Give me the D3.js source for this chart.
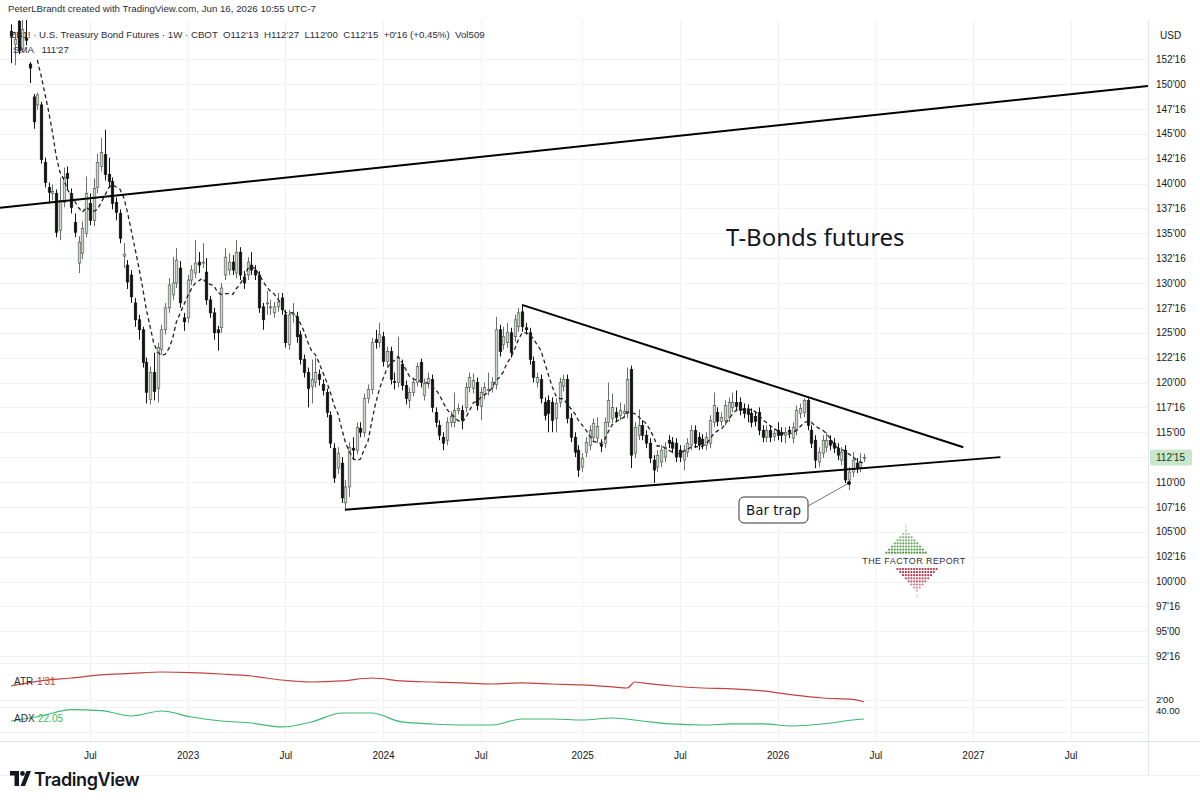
<!DOCTYPE html>
<html>
<head>
<meta charset="utf-8">
<title>T-Bonds futures</title>
<script src="https://cdn.jsdelivr.net/npm/d3@7"></script>
<style>
  body { margin: 0; background: #fff; }
  svg { display: block; font-family: "Liberation Sans", Arial, sans-serif; }
</style>
</head>
<body>
<svg id="chart" width="1200" height="803"></svg>
<script>
// weekly bars, first one is the week of 2022-02-07
var firstWeek = "2022-02-07"

var opens = [
  155.3,154.0,156.3,153.5,154.6,152.0,148.7,147.9,147.9,142.1,
  139.6,139.0,139.0,135.3,138.1,141.0,139.0,136.1,132.0,133.0,
  135.0,138.0,136.3,139.6,141.7,142.9,140.9,140.2,138.1,137.0,
  132.7,131.8,130.8,128.0,126.3,125.3,122.0,118.3,121.0,119.4,
  123.3,125.3,127.5,128.8,130.0,131.5,126.5,126.5,130.3,131.0,
  132.1,132.0,131.1,128.3,127.0,125.3,125.5,130.8,131.3,132.1,
  131.0,133.1,130.6,130.8,131.8,131.3,130.8,127.6,127.9,127.5,
  127.0,127.6,128.5,126.8,123.8,126.8,126.6,124.8,122.3,121.0,
  119.6,120.0,120.8,119.8,119.0,116.7,113.4,111.4,111.9,107.9,
  109.5,113.4,113.2,115.4,115.0,118.4,119.3,124.3,124.0,124.6,
  122.1,123.1,120.1,120.0,121.8,119.7,118.2,119.0,120.0,122.0,
  118.7,119.9,120.3,117.0,115.7,114.5,114.2,116.0,116.0,117.2,
  117.2,117.5,119.5,119.4,120.0,117.6,118.8,119.2,119.5,119.8,
  125.3,123.8,124.0,125.0,124.6,125.6,127.1,125.5,125.0,122.1,
  120.0,120.3,118.0,118.2,118.0,116.4,118.0,119.6,120.3,116.4,
  114.5,113.2,111.5,113.0,113.7,114.5,114.4,113.8,113.9,116.0,
  116.4,117.0,116.7,116.9,116.9,121.3,112.9,114.7,115.7,114.7,
  113.9,112.2,111.5,112.0,112.5,114.2,114.0,113.9,113.2,112.2,
  113.0,113.7,115.2,114.5,114.3,113.7,113.9,116.0,117.0,116.1,
  116.2,116.5,117.5,118.0,118.0,117.4,117.3,116.9,116.6,117.0,
  115.2,114.5,115.2,114.6,115.2,115.0,114.7,115.2,114.4,115.2,
  116.9,117.0,118.2,115.2,114.2,112.0,112.9,113.5,114.2,113.9,
  113.4,112.2,113.2,110.2,111.0,111.9,111.5,112.406
]
var highs = [
  156.0,155.2,157.5,156.8,156.9,152.2,149.0,149.1,148.2,142.6,
  140.1,139.9,139.4,140.6,141.6,141.7,139.5,137.0,134.7,136.2,
  140.7,139.0,140.5,143.0,144.6,145.4,142.6,140.6,138.6,137.4,
  134.0,132.3,131.3,128.5,126.8,125.6,122.5,121.6,123.0,124.0,
  125.8,128.0,130.5,132.6,133.5,132.2,127.0,130.8,131.8,134.3,
  133.1,134.0,132.5,128.7,127.5,125.7,130.0,133.5,133.0,132.8,
  134.3,133.6,131.2,132.6,133.1,131.8,131.2,128.0,129.2,128.3,
  128.1,129.0,129.0,127.3,127.3,128.0,127.1,125.2,122.8,121.5,
  122.3,122.5,121.3,120.3,119.4,117.1,113.9,113.5,112.5,110.2,
  114.0,114.5,116.0,116.0,118.9,119.8,124.5,125.3,126.0,125.1,
  123.6,123.6,121.0,124.6,122.3,120.2,119.5,120.5,122.0,122.4,
  120.4,121.0,120.8,117.5,116.2,115.0,116.5,117.1,119.0,117.9,
  117.7,120.0,121.0,120.9,120.5,119.5,120.0,121.0,120.5,126.6,
  125.8,125.6,126.0,125.5,126.8,127.5,127.8,126.0,125.5,122.6,
  121.0,120.8,118.5,118.7,118.5,118.4,120.5,120.8,120.8,116.9,
  115.0,113.7,112.9,114.5,115.7,116.4,116.5,114.3,116.5,120.0,
  118.9,117.5,118.0,117.8,121.5,121.7,116.0,117.3,116.2,115.2,
  114.4,112.7,113.2,113.7,114.0,114.7,114.5,114.4,113.7,113.7,
  114.4,115.7,115.7,115.0,114.8,115.0,116.7,119.0,117.5,117.0,
  118.2,118.5,119.0,119.2,118.5,117.9,117.8,117.4,117.1,117.5,
  115.7,115.7,115.7,115.4,116.0,115.5,115.5,115.6,116.0,117.7,
  117.9,118.4,118.4,115.7,114.7,113.5,114.7,115.0,114.7,114.4,
  113.9,113.5,113.7,111.5,113.0,112.4,112.9,112.844
]
var lows = [
  152.1,151.9,153.0,153.2,153.9,150.1,145.5,147.4,142.0,139.6,
  138.0,138.3,134.6,134.3,137.6,139.3,137.0,134.6,131.0,132.4,
  134.6,135.8,135.7,139.0,141.2,140.3,139.6,137.4,136.3,134.0,
  131.5,129.4,128.0,125.6,124.3,121.5,117.9,117.8,118.2,118.0,
  122.8,124.8,127.0,128.3,129.5,127.5,125.2,126.0,129.8,130.5,
  131.0,131.5,127.8,126.5,124.3,123.2,125.0,130.3,130.8,130.8,
  130.5,130.3,129.4,130.3,130.8,130.3,127.0,125.3,126.8,126.8,
  126.5,127.1,126.8,123.5,123.3,126.0,124.0,121.8,120.5,117.5,
  117.9,119.5,119.7,118.7,116.5,113.4,109.9,110.8,107.9,107.2,
  108.5,112.2,112.8,114.5,114.5,117.9,118.8,123.4,123.5,121.6,
  121.6,119.8,119.3,119.5,119.2,117.8,117.4,118.6,119.6,119.5,
  118.2,119.4,117.0,115.5,114.2,113.2,113.7,115.5,115.5,116.8,
  115.3,117.0,119.0,118.9,117.2,116.2,118.3,118.7,119.0,119.3,
  122.6,123.3,123.5,122.5,124.1,125.1,125.1,124.8,121.8,120.0,
  119.5,117.9,116.2,115.0,115.0,115.0,117.5,119.1,115.9,114.0,
  112.5,110.5,111.0,112.5,113.2,114.0,113.9,113.0,113.4,115.5,
  115.9,116.0,116.2,116.4,116.4,111.4,112.4,114.2,114.2,113.4,
  111.9,109.9,111.0,111.5,112.0,113.4,112.9,112.0,112.0,111.2,
  112.5,113.2,113.4,113.2,113.3,113.2,113.4,115.5,115.6,115.6,
  115.7,116.0,117.0,117.1,116.7,116.4,116.0,115.5,115.6,114.7,
  114.0,114.0,114.0,114.1,114.2,114.0,113.9,114.4,113.9,114.7,
  116.4,116.5,115.2,113.4,111.4,111.5,112.4,113.0,113.2,112.9,
  112.2,111.7,109.9,109.2,110.5,110.9,111.0,112.0
]
var closes = [
  154.8,154.5,153.4,155.5,154.4,151.6,146.2,148.9,142.4,140.1,
  139.1,139.2,135.1,138.3,140.6,140.5,137.6,135.1,134.1,135.5,
  139.0,136.3,139.5,142.1,143.1,140.9,140.2,138.0,137.1,134.5,
  132.9,130.1,128.6,126.3,125.3,122.0,119.0,121.0,119.1,123.5,
  125.3,127.5,129.8,130.0,132.3,128.0,126.1,130.3,131.3,132.0,
  131.8,132.1,128.3,127.0,125.0,125.0,129.5,132.6,132.1,131.3,
  133.1,130.8,130.0,132.1,131.3,130.8,127.5,126.3,128.0,127.6,
  127.6,128.1,127.3,124.0,126.8,126.9,124.6,122.3,121.0,119.4,
  120.3,121.0,120.3,119.2,117.0,113.9,110.4,112.9,108.4,109.5,
  113.5,113.2,115.5,115.0,118.4,119.3,124.0,124.0,124.8,122.1,
  123.1,120.3,120.0,122.5,119.7,118.4,119.0,120.0,121.6,120.0,
  119.9,120.4,117.5,116.0,114.7,113.9,116.0,116.6,117.2,117.4,
  116.2,119.5,120.5,120.2,117.7,119.0,119.5,119.3,120.0,125.3,
  123.1,124.6,125.0,123.0,126.3,127.0,125.6,125.3,122.3,120.5,
  120.5,118.4,116.7,116.9,116.2,117.9,120.0,120.3,116.4,114.5,
  113.0,111.2,112.4,114.0,115.2,115.9,115.6,113.6,116.0,118.2,
  117.5,116.5,117.2,117.1,120.3,112.7,115.5,115.7,114.7,113.9,
  112.4,111.2,112.7,113.2,113.5,113.9,113.4,112.5,112.5,113.2,
  113.9,115.2,113.9,113.7,113.8,114.5,116.2,117.7,116.1,116.5,
  117.7,118.0,118.0,117.6,117.2,116.9,116.8,116.0,116.1,115.2,
  114.5,115.2,114.5,114.9,114.7,114.7,115.0,115.0,115.5,117.2,
  117.4,118.2,115.7,113.9,112.2,113.0,114.2,114.2,113.7,113.4,
  112.7,113.0,110.2,111.0,112.2,111.4,112.0,112.469
]

var atrBars = [0,8,16,24,32,40,48,56,64,72,80,88,96,104,112,120,128,136,144,152,160,164,166,168,176,184,192,200,208,216,224,227]
var atrValues = [2.85,3.13,3.29,3.46,3.54,3.62,3.59,3.51,3.40,3.18,3.07,3.13,3.29,3.13,3.07,3.02,2.96,3.02,2.96,2.91,2.80,2.74,3.07,3.02,2.85,2.74,2.69,2.58,2.36,2.19,2.11,1.97]
var adxBars = [0,8,16,24,32,40,48,56,64,72,80,88,96,104,112,120,128,136,144,152,160,168,176,184,192,200,208,216,224,227]
var adxValues = [17.6,28.8,43,41,28.8,40,26.6,17.6,13.1,4.2,15.4,35.5,35.5,15.4,10.9,8.6,8.6,22.1,22.1,19.8,24.3,17.6,10.9,8.6,10.9,10.9,6.4,10.9,19.8,22.05]

var smaLength = 8

var priceTicks = [92.5,95,97.5,100,102.5,105,107.5,110,112.5,115,117.5,120,122.5,125,127.5,130,132.5,135,137.5,140,142.5,145,147.5,150,152.5]
var tickDates = ["2022-07-04","2023-01-02","2023-07-03","2024-01-01","2024-07-01","2025-01-06","2025-07-07","2026-01-05","2026-07-06","2027-01-04","2027-07-05"]
var tickLabels = ["Jul","2023","Jul","2024","Jul","2025","Jul","2026","Jul","2027","Jul"]

// drawn trend lines [date, price]
var longLine = [["2022-01-17", 137.55], ["2027-11-26", 149.8]]
var triangleTop = [["2024-09-16", 127.8], ["2026-12-17", 113.5]]
var triangleBottom = [["2023-10-22", 107.2], ["2027-02-24", 112.5]]
var trapPoint = ["2026-05-18", 109.9]

var svg = d3.select("#chart")
var parse = d3.utcParse("%Y-%m-%d")
var start = parse(firstWeek)

var bars = opens.map(function (o, i) {
  return { date: d3.utcDay.offset(start, i * 7), o: o, h: highs[i], l: lows[i], c: closes[i] }
})

var dims = { right: 1148, priceTop: 20, priceBottom: 663, atrBottom: 700, adxBottom: 741 }

var xScale = d3.scaleUtc()
  .domain([start, parse("2027-11-26")])
  .range([11, dims.right])
var yScale = d3.scaleLinear()
  .domain([150, 110])
  .range([84, 482])
var atrScale = d3.scaleLinear().domain([1.97, 3.62]).range([702, 672])
var adxScale = d3.scaleLinear().domain([40, 22.05]).range([711, 719])

function fmt32(p) {
  var whole = Math.floor(p + 1e-9)
  var t = Math.round((p - whole) * 32)
  if (t == 32) { whole += 1; t = 0 }
  return whole + "'" + String(t).padStart(2, "0")
}

var defs = svg.append("defs")
defs.append("clipPath").attr("id", "priceClip").append("rect")
  .attr("x", 0).attr("y", dims.priceTop).attr("width", dims.right).attr("height", dims.priceBottom - dims.priceTop)
defs.append("clipPath").attr("id", "indClip").append("rect")
  .attr("x", 0).attr("y", dims.priceBottom).attr("width", dims.right).attr("height", dims.adxBottom - dims.priceBottom)

// grid
var grid = svg.append("g").attr("stroke", "#f0f2f5").attr("stroke-width", 1)
grid.selectAll("line.h").data(priceTicks).join("line")
  .attr("x1", 0).attr("x2", dims.right)
  .attr("y1", d => Math.round(yScale(d)) + 0.5).attr("y2", d => Math.round(yScale(d)) + 0.5)
grid.selectAll("line.v").data(tickDates).join("line")
  .attr("x1", d => Math.round(xScale(parse(d))) + 0.5).attr("x2", d => Math.round(xScale(parse(d))) + 0.5)
  .attr("y1", dims.priceTop).attr("y2", dims.adxBottom)
grid.selectAll("line.p").data([dims.priceBottom, dims.atrBottom, 707, 732]).join("line")
  .attr("x1", 0).attr("x2", dims.right).attr("y1", d => d + 0.5).attr("y2", d => d + 0.5)

// header + legend
svg.append("text").attr("x", 8).attr("y", 12).attr("font-size", 9.7).attr("fill", "#2a2e39")
  .text("PeterLBrandt created with TradingView.com, Jun 16, 2026 10:55 UTC-7")

var price = svg.append("g").attr("clip-path", "url(#priceClip)")

var legend = svg.append("g").attr("font-size", 9.7).attr("fill", "#2a2e39")
legend.append("text").attr("x", 10).attr("y", 38).attr("xml:space", "preserve")
  .text("ZB1! \u00b7 U.S. Treasury Bond Futures \u00b7 1W \u00b7 CBOT  O112'13  H112'27  L112'00  C112'15  +0'16 (+0.45%)  Vol509")
legend.append("text").attr("x", 13).attr("y", 53).attr("xml:space", "preserve").text("SMA   111'27")

// candles
var up = d => d.c >= d.o
var bw = 2.6
price.selectAll("line.wick").data(bars).join("line")
  .attr("x1", d => Math.round(xScale(d.date)) + 0.5)
  .attr("x2", d => Math.round(xScale(d.date)) + 0.5)
  .attr("y1", d => yScale(d.h))
  .attr("y2", d => yScale(d.l))
  .attr("stroke", d => up(d) ? "#6b6f6b" : "#111")
  .attr("stroke-width", 1)
price.selectAll("rect.body").data(bars).join("rect")
  .attr("x", d => Math.round(xScale(d.date)) + 0.5 - bw / 2)
  .attr("y", d => yScale(Math.max(d.o, d.c)))
  .attr("width", bw)
  .attr("height", d => Math.max(1, Math.abs(yScale(d.o) - yScale(d.c))))
  .attr("fill", d => up(d) ? "#c9d9c6" : "#111")
  .attr("stroke", d => up(d) ? "#4a4f4a" : "#111")
  .attr("stroke-width", 0.6)

// SMA
var sma = bars.map(function (d, i) {
  if (i < smaLength - 1) return null
  return { date: d.date, v: d3.mean(closes.slice(i - smaLength + 1, i + 1)) }
}).filter(d => d)
price.append("path").datum(sma)
  .attr("fill", "none").attr("stroke", "#222").attr("stroke-width", 1.3)
  .attr("stroke-dasharray", "4 3")
  .attr("d", d3.line().x(d => xScale(d.date)).y(d => yScale(d.v)))

// trend lines
var tl = d3.line().x(d => xScale(parse(d[0]))).y(d => yScale(d[1]))
price.selectAll("path.trend").data([longLine, triangleTop, triangleBottom]).join("path")
  .attr("fill", "none").attr("stroke", "#000").attr("stroke-width", 2)
  .attr("d", tl)

// T-Bonds text
svg.append("text").attr("x", 726).attr("y", 246)
  .attr("font-family", "'Noto Sans', 'Open Sans', sans-serif").attr("font-size", 24).attr("fill", "#131722")
  .text("T-Bonds futures")

// Bar trap callout
var tx = xScale(parse(trapPoint[0])), ty = yScale(trapPoint[1])
var box = { x: tx - 110, y: ty + 14, w: 69, h: 26 }
svg.append("line").attr("x1", box.x + box.w).attr("y1", box.y + 9).attr("x2", tx).attr("y2", ty)
  .attr("stroke", "#777").attr("stroke-width", 1)
svg.append("circle").attr("cx", tx).attr("cy", ty).attr("r", 2).attr("fill", "#111")
svg.append("rect").attr("x", box.x).attr("y", box.y).attr("width", box.w).attr("height", box.h)
  .attr("rx", 5).attr("fill", "#fff").attr("stroke", "#333").attr("stroke-width", 1)
svg.append("text").attr("x", box.x + box.w / 2).attr("y", box.y + 18).attr("text-anchor", "middle")
  .attr("font-family", "'DejaVu Sans', sans-serif").attr("font-size", 13.5).attr("fill", "#131722")
  .text("Bar trap")

// the factor report logo
var logo = svg.append("g")
var greenShades = ["#b9cdb4", "#a6c39d", "#93ba88", "#7fb072", "#6ca860", "#5fa052", "#569a48", "#4f9442"]
greenShades.forEach(function (col, r) {
  var n = 2 * r + 1
  for (var k = 0; k < n; k++) {
    logo.append("circle").attr("cx", 906 + (k - (n - 1) / 2) * 2.8).attr("cy", 531 + r * 3.1).attr("r", 1.1).attr("fill", col)
  }
})
var redShades = ["#a8283f", "#ae3047", "#b63b52", "#bf4a60", "#c95d71", "#d27585", "#dc909d", "#e5aab3"]
redShades.forEach(function (col, r) {
  var n = 15 - 2 * r
  for (var k = 0; k < n; k++) {
    logo.append("circle").attr("cx", 917 + (k - (n - 1) / 2) * 2.8).attr("cy", 569 + r * 3.1).attr("r", 1.1).attr("fill", col)
  }
})
logo.append("line").attr("x1", 906).attr("x2", 906).attr("y1", 525).attr("y2", 530).attr("stroke", "#bbb").attr("stroke-dasharray", "1 1")
logo.append("line").attr("x1", 917).attr("x2", 917).attr("y1", 594).attr("y2", 598).attr("stroke", "#bbb").attr("stroke-dasharray", "1 1")
logo.append("text").attr("x", 914).attr("y", 564).attr("text-anchor", "middle")
  .attr("font-size", 9).attr("letter-spacing", 0.4).attr("fill", "#333").text("THE FACTOR REPORT")

// indicator panes
var ind = svg.append("g").attr("clip-path", "url(#indClip)")
ind.append("path").datum(atrBars.map((b, i) => [b, atrValues[i]]))
  .attr("fill", "none").attr("stroke", "#c2423c").attr("stroke-width", 1.2)
  .attr("d", d3.line().curve(d3.curveMonotoneX).x(d => xScale(bars[d[0]].date)).y(d => atrScale(d[1])))
ind.append("path").datum(adxBars.map((b, i) => [b, adxValues[i]]))
  .attr("fill", "none").attr("stroke", "#3cba6e").attr("stroke-width", 1.2)
  .attr("d", d3.line().curve(d3.curveMonotoneX).x(d => xScale(bars[d[0]].date)).y(d => adxScale(d[1])))

var il = svg.append("g").attr("font-size", 10)
il.append("text").attr("x", 14).attr("y", 685).attr("fill", "#2a2e39").text("ATR")
il.append("text").attr("x", 37).attr("y", 685).attr("fill", "#c2423c").text(fmt32(atrValues[atrValues.length - 1]))
il.append("text").attr("x", 14).attr("y", 722).attr("fill", "#2a2e39").text("ADX")
il.append("text").attr("x", 38).attr("y", 722).attr("fill", "#3cba6e").text(adxValues[adxValues.length - 1].toFixed(2))

// right price axis
svg.append("line").attr("x1", dims.right + 0.5).attr("x2", dims.right + 0.5).attr("y1", dims.priceTop).attr("y2", 775)
  .attr("stroke", "#e0e3eb")
var yAxis = d3.axisRight(yScale).tickValues(priceTicks).tickFormat(fmt32).tickSize(0).tickPadding(8)
svg.append("g").attr("transform", "translate(" + dims.right + ",0)").call(yAxis)
  .attr("font-family", null).attr("font-size", 10)
  .call(g => g.select(".domain").remove())
  .selectAll("text").attr("fill", "#131722")
svg.append("text").attr("x", 1160).attr("y", 39).attr("font-size", 10).attr("fill", "#131722").text("USD")

var last = closes[closes.length - 1]
svg.append("rect").attr("x", dims.right + 2).attr("y", yScale(last) - 8).attr("width", 42).attr("height", 16)
  .attr("rx", 2).attr("fill", "#c8e6c9")
svg.append("text").attr("x", dims.right + 8).attr("y", yScale(last) + 3.5).attr("font-size", 10).attr("fill", "#1b3a1f")
  .text(fmt32(last))

svg.append("text").attr("x", dims.right + 8).attr("y", 703).attr("font-size", 9.5).attr("fill", "#131722").text("2'00")
svg.append("text").attr("x", dims.right + 8).attr("y", 713.5).attr("font-size", 9.5).attr("fill", "#131722").text("40.00")

// time axis
svg.append("line").attr("x1", 0).attr("x2", 1200).attr("y1", dims.adxBottom + 0.5).attr("y2", dims.adxBottom + 0.5)
  .attr("stroke", "#e0e3eb")
svg.append("line").attr("x1", 0).attr("x2", 1200).attr("y1", 775.5).attr("y2", 775.5).attr("stroke", "#f0f2f5")
var xAxis = d3.axisBottom(xScale)
  .tickValues(tickDates.map(d => parse(d)))
  .tickFormat((d, i) => tickLabels[i])
  .tickSize(0).tickPadding(11)
svg.append("g").attr("transform", "translate(0," + dims.adxBottom + ")").call(xAxis)
  .attr("font-family", null).attr("font-size", 10)
  .call(g => g.select(".domain").remove())
  .selectAll("text").attr("fill", "#131722")

// TradingView logo
var tv = svg.append("g").attr("fill", "#131722")
tv.append("path").attr("d", "M10,771 H19 V786 H14.5 V775.5 H10 Z")
tv.append("circle").attr("cx", 22.5).attr("cy", 773.5).attr("r", 2.4)
tv.append("path").attr("d", "M26.5,771 H31 L25,786 H20.5 Z")
tv.append("text").attr("x", 34).attr("y", 785.5).attr("font-family", "Inter, 'Noto Sans', sans-serif")
  .attr("font-size", 18).attr("font-weight", 600).attr("letter-spacing", -0.4).text("TradingView")
</script>
</body>
</html>
